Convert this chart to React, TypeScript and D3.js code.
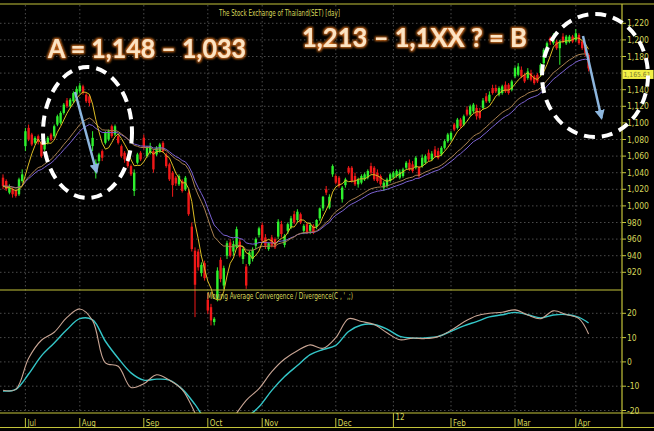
import React from 'react';
import * as d3 from 'd3';

// daily candles, SET index (Jul 2011 - Apr 2012)
const opens = [
  1034, 1030, 1016, 1020, 1018, 1014, 1030, 1072, 1094, 1086, 1076, 1084, 1076, 1068, 1076, 1086, 1084, 1098, 1100, 1112,
  1127, 1120, 1126, 1134, 1138, 1144, 1134, 1132, 1072, 1040, 1054, 1066, 1076, 1080, 1096, 1086, 1084, 1072, 1064, 1060,
  1048, 1018, 1052, 1064, 1082, 1060, 1064, 1066, 1062, 1066, 1076, 1062, 1050, 1040, 1034, 1026, 1030, 1020, 1016, 975,
  946, 945, 919, 931, 887, 878, 860, 888, 935, 904, 940, 956, 945, 950, 957, 936, 927, 930, 936, 952,
  965, 977, 962, 948, 962, 960, 963, 978, 953, 970, 974, 990, 983, 990, 970, 978, 970, 976, 975, 985,
  997, 1020, 998, 1038, 1036, 1034, 1008, 1025, 1046, 1046, 1036, 1026, 1028, 1032, 1034, 1048, 1046, 1040, 1036, 1022,
  1024, 1030, 1034, 1036, 1034, 1036, 1046, 1052, 1050, 1046, 1046, 1048, 1052, 1064, 1056, 1068, 1066, 1062, 1070, 1078,
  1080, 1098, 1094, 1104, 1098, 1116, 1110, 1114, 1118, 1114, 1118, 1132, 1126, 1142, 1142, 1134, 1136, 1146, 1146, 1140,
  1156, 1158, 1164, 1158, 1154, 1160, 1156, 1158, 1160, 1172, 1186, 1202, 1196, 1198, 1190, 1204, 1196, 1198, 1204, 1200,
  1206, 1198, 1192, 1182,
];
const highs = [
  1038, 1032, 1026, 1022, 1020, 1034, 1044, 1094, 1098, 1088, 1084, 1086, 1078, 1080, 1084, 1088, 1098, 1110, 1114, 1124,
  1130, 1130, 1138, 1144, 1148, 1146, 1136, 1134, 1090, 1056, 1064, 1068, 1090, 1092, 1098, 1098, 1086, 1074, 1066, 1062,
  1050, 1044, 1064, 1066, 1086, 1072, 1076, 1068, 1072, 1076, 1078, 1064, 1052, 1042, 1036, 1038, 1032, 1036, 1020, 980,
  950, 948, 932, 934, 895, 882, 866, 926, 938, 928, 958, 960, 958, 975, 960, 950, 930, 946, 950, 962,
  975, 980, 966, 956, 965, 962, 984, 982, 966, 980, 988, 994, 996, 992, 978, 980, 980, 978, 984, 998,
  1012, 1024, 1014, 1050, 1038, 1036, 1024, 1034, 1048, 1048, 1040, 1034, 1038, 1040, 1044, 1052, 1048, 1044, 1038, 1030,
  1034, 1040, 1042, 1044, 1044, 1046, 1054, 1056, 1054, 1060, 1048, 1062, 1062, 1068, 1066, 1072, 1070, 1072, 1080, 1088,
  1090, 1100, 1106, 1106, 1110, 1120, 1122, 1124, 1122, 1118, 1130, 1136, 1138, 1146, 1146, 1144, 1146, 1150, 1148, 1152,
  1168, 1172, 1168, 1160, 1166, 1164, 1158, 1160, 1172, 1190, 1198, 1204, 1208, 1200, 1200, 1208, 1206, 1206, 1206, 1213,
  1208, 1200, 1196, 1184,
];
const lows = [
  1020, 1018, 1014, 1010, 1010, 1012, 1028, 1066, 1078, 1072, 1074, 1074, 1058, 1066, 1074, 1078, 1082, 1096, 1098, 1110,
  1118, 1118, 1124, 1132, 1136, 1134, 1124, 1120, 1066, 1033, 1050, 1054, 1074, 1078, 1082, 1084, 1074, 1058, 1052, 1046,
  1036, 1012, 1050, 1054, 1068, 1058, 1062, 1040, 1060, 1064, 1064, 1046, 1030, 1011, 1024, 1024, 1016, 1018, 988, 945,
  866, 922, 915, 910, 870, 856, 856, 885, 908, 900, 936, 938, 940, 948, 938, 930, 900, 928, 933, 948,
  962, 956, 948, 946, 950, 948, 960, 962, 950, 966, 972, 978, 980, 978, 966, 966, 966, 966, 972, 982,
  994, 1013, 996, 1035, 1026, 1022, 1004, 1022, 1038, 1028, 1024, 1022, 1026, 1030, 1032, 1038, 1030, 1028, 1024, 1018,
  1022, 1028, 1032, 1034, 1032, 1034, 1044, 1042, 1040, 1044, 1034, 1046, 1050, 1054, 1054, 1058, 1056, 1060, 1068, 1076,
  1078, 1090, 1092, 1094, 1096, 1108, 1108, 1112, 1104, 1104, 1116, 1124, 1124, 1134, 1136, 1132, 1134, 1136, 1134, 1138,
  1154, 1156, 1154, 1148, 1152, 1150, 1146, 1148, 1156, 1170, 1184, 1194, 1194, 1188, 1170, 1196, 1194, 1196, 1196, 1198,
  1194, 1188, 1180, 1162,
];
const closes = [
  1024, 1020, 1022, 1014, 1012, 1032, 1038, 1090, 1080, 1074, 1082, 1077, 1060, 1078, 1082, 1080, 1096, 1108, 1112, 1122,
  1120, 1128, 1136, 1141, 1145, 1136, 1126, 1124, 1082, 1052, 1062, 1058, 1088, 1090, 1084, 1096, 1076, 1060, 1056, 1048,
  1038, 1040, 1062, 1056, 1070, 1070, 1072, 1044, 1070, 1074, 1066, 1048, 1032, 1025, 1027, 1036, 1018, 1034, 990, 948,
  905, 926, 929, 913, 874, 862, 864, 922, 912, 925, 955, 940, 954, 972, 940, 948, 904, 944, 947, 960,
  973, 958, 952, 955, 952, 950, 981, 966, 964, 978, 985, 980, 993, 980, 976, 968, 977, 968, 983, 997,
  1011, 1016, 1011, 1048, 1028, 1024, 1022, 1032, 1040, 1030, 1026, 1032, 1036, 1038, 1042, 1040, 1032, 1030, 1026, 1028,
  1032, 1038, 1040, 1042, 1041, 1044, 1052, 1044, 1042, 1058, 1036, 1058, 1060, 1056, 1063, 1060, 1058, 1070, 1078, 1086,
  1088, 1092, 1104, 1096, 1108, 1110, 1120, 1122, 1108, 1106, 1127, 1126, 1134, 1136, 1138, 1142, 1144, 1138, 1136, 1150,
  1166, 1168, 1156, 1150, 1162, 1152, 1148, 1150, 1170, 1188, 1196, 1198, 1205, 1190, 1198, 1198, 1204, 1204, 1198, 1208,
  1196, 1190, 1184, 1165.61,
];

// MACD panel, sampled every 4 bars
const macdBars = [
  0, 4, 8, 12, 16, 20, 24, 28, 32, 36, 40, 44, 48, 52, 56, 60, 64, 68, 72, 76, 80, 84, 88, 92,
  96, 100, 104, 108, 112, 116, 120, 124, 128, 132, 136, 140, 144, 148, 152, 156, 160, 164, 168, 172, 176, 180, 183,
];
const macdValues = [
  -11.7, -11.3, 1.5, 8.9, 12.2, 18.3, 21.8, 17, -0.4, -1.8, -10.5, -9, -5.3, -7.5, -11.4, -21, -32, -30, -23, -15.8,
  -11, -4, 1.2, 4.6, 7, 5.6, 10, 17.8, 16.6, 15.4, 12, 9.1, 9.8, 9.6, 10.4, 13, 16.4, 19, 20, 20.4, 21.4, 19.3, 17.8,
  21, 19.5, 17.8, 11.5,
];
const signalValues = [
  -12, -11.3, -5, 2.5, 7.8, 13.3, 17.8, 17.3, 8.5, 1.5, -4.5, -7.5, -7.1, -7.5, -11.2, -17.5, -25, -28, -27, -23,
  -18.5, -11.7, -6, -1.5, 3, 5.1, 6.8, 12.5, 15.2, 15.4, 13.5, 10.5, 9.8, 9.9, 10.5, 12.6, 14.8, 16.6, 18.5, 19.4, 20.4,
  19.4, 18.1, 19.3, 19.5, 18.3, 16,
];

const priceGrid = [1220, 1200, 1180, 1160, 1140, 1120, 1100, 1080, 1060, 1040, 1020, 1000, 980, 960, 940, 920];
const priceLabels = [1220, 1200, 1180, 1140, 1120, 1100, 1080, 1060, 1040, 1020, 1000, 980, 960, 940, 920];
const macdTicks = [20, 10, 0, -10, -20];
const monthLabels = ['Jul', 'Aug', 'Sep', 'Oct', 'Nov', 'Dec', '12', 'Feb', 'Mar', 'Apr'];
const monthBars = [7, 24, 44, 64, 81, 104, 122, 140, 160, 179];
const lastPrice = 1165.61;

const W = 654;
const H = 431;
const NARROW = '"Liberation Sans Narrow", "Arial Narrow", "DejaVu Sans Condensed", sans-serif';
const AXIS = '#c4c43a';
const LABEL = '#d6d65a';
const GRID = '#4a4a4a';
const UP = '#2ef02e';
const DOWN = '#f01818';

function sma(vals: number[], n: number) {
  return vals.map((_, i) => d3.mean(vals.slice(Math.max(0, i - n + 1), i + 1)) as number);
}
function ema(vals: number[], n: number) {
  const k = 2 / (n + 1);
  const out: number[] = [];
  vals.forEach((v, i) => out.push(i === 0 ? v : v * k + out[i - 1] * (1 - k)));
  return out;
}

export default function App() {
  const n = closes.length;
  const x = d3.scaleLinear().domain([0, n - 1]).range([3, 588.6]);
  const yP = d3.scaleLinear().domain([920, 1220]).range([272.3, 23.3]);
  const yM = d3.scaleLinear().domain([-20, 20]).range([410.5, 313.3]);
  const fmt = d3.format(',');

  const ma5 = sma(closes, 5);
  const ma20 = ema(closes, 20);
  const ma25 = ema(closes, 25);
  const maLine = d3.line<number>().x((_, i) => x(i)).y(d => yP(d));
  const macdLine = d3.line<number>()
    .x((_, i) => x(macdBars[i]))
    .y(d => yM(d))
    .curve(d3.curveCatmullRom.alpha(0.5));

  return (
    <div style={{ position: 'fixed', left: 0, top: 0, width: W, height: H, background: '#000' }}>
      <svg width={W} height={H} style={{ display: 'block', background: '#000' }}>
        <defs>
          <clipPath id="macdClip">
            <rect x={0} y={290} width={622} height={123} />
          </clipPath>
          <marker id="arrowHead" viewBox="0 0 10 10" refX={8} refY={5} markerWidth={4} markerHeight={4} orient="auto">
            <path d="M0,0 L10,5 L0,10 z" fill="#8db6de" />
          </marker>
          <filter id="glow" x="-10%" y="-40%" width="120%" height="180%">
            <feMorphology in="SourceAlpha" operator="dilate" radius={1} result="dil" />
            <feGaussianBlur in="dil" stdDeviation={1.1} result="blur" />
            <feFlood floodColor="#d8701a" />
            <feComposite in2="blur" operator="in" result="g" />
            <feMerge>
              <feMergeNode in="g" />
              <feMergeNode in="SourceGraphic" />
            </feMerge>
          </filter>
        </defs>

        {/* grid */}
        <g stroke={GRID} strokeDasharray="1.5,2.5" strokeWidth={1}>
          {priceGrid.map(v => (
            <line key={'pg' + v} x1={0} x2={622} y1={yP(v)} y2={yP(v)} />
          ))}
          {macdTicks.map(v => (
            <line key={'mg' + v} x1={0} x2={622} y1={yM(v)} y2={yM(v)} />
          ))}
          {monthBars.map(b => (
            <line key={'vg' + b} x1={x(b)} x2={x(b)} y1={5} y2={413} />
          ))}
        </g>

        {/* candles */}
        <g>
          {closes.map((c, i) => {
            const o = opens[i];
            const col = c >= o ? UP : DOWN;
            const top = yP(Math.max(o, c));
            const h = Math.max(1, Math.abs(yP(o) - yP(c)));
            return (
              <g key={i}>
                <line x1={x(i)} x2={x(i)} y1={yP(highs[i])} y2={yP(lows[i])} stroke={col} strokeWidth={1} />
                <rect x={x(i) - 1.2} y={top} width={2.4} height={h} fill={col} />
              </g>
            );
          })}
        </g>

        {/* moving averages */}
        <path d={maLine(ma25) || ''} fill="none" stroke="#7c62d4" strokeWidth={1} />
        <path d={maLine(ma20) || ''} fill="none" stroke="#a98050" strokeWidth={1} />
        <path d={maLine(ma5) || ''} fill="none" stroke="#dcbc24" strokeWidth={1} />

        {/* MACD */}
        <g clipPath="url(#macdClip)">
          <path d={macdLine(signalValues) || ''} fill="none" stroke="#34c6c8" strokeWidth={1.4} />
          <path d={macdLine(macdValues) || ''} fill="none" stroke="#c9a594" strokeWidth={1.1} />
        </g>

        {/* frame */}
        <g stroke={AXIS} strokeWidth={1.2}>
          <line x1={0} x2={W} y1={4} y2={4} />
          <line x1={622} x2={622} y1={4} y2={427} />
          <line x1={0} x2={622} y1={290} y2={290} />
          <line x1={0} x2={W} y1={413} y2={413} />
          <line x1={0} x2={W} y1={427.5} y2={427.5} />
        </g>

        {/* price axis */}
        <g fontFamily={NARROW} fontSize={8.5} fill={LABEL}>
          {priceLabels.map(v => (
            <g key={'pl' + v}>
              <line x1={622} x2={626} y1={yP(v)} y2={yP(v)} stroke={AXIS} />
              <text x={627} y={yP(v) + 3}>{fmt(v)}</text>
            </g>
          ))}
          {macdTicks.map(v => (
            <g key={'ml' + v}>
              <line x1={622} x2={626} y1={yM(v)} y2={yM(v)} stroke={AXIS} />
              <text x={627} y={yM(v) + 3}>{v}</text>
            </g>
          ))}
        </g>
        <rect x={622.5} y={yP(lastPrice) + 1.5} width={31} height={9} fill="#f2f046" />
        <text
          x={623.5}
          y={yP(lastPrice) + 8.6}
          fontFamily={NARROW}
          fontSize={7}
          fill="#7a7a30"
          textLength={27}
          lengthAdjust="spacingAndGlyphs"
        >
          {d3.format(',.2f')(lastPrice)}
        </text>

        {/* time axis */}
        <g fontFamily={NARROW} fontSize={8} fill={LABEL}>
          {monthLabels.map((m, i) => {
            const xx = x(monthBars[i]);
            const yearMark = m === '12';
            return (
              <g key={m}>
                <line x1={xx} x2={xx} y1={yearMark ? 413 : 418} y2={427} stroke={AXIS} />
                <text x={xx + 2} y={yearMark ? 420 : 425.5}>{m}</text>
              </g>
            );
          })}
        </g>

        {/* titles */}
        <text x={219} y={16} fontFamily={NARROW} fontSize={8} fill={LABEL} textLength={121} lengthAdjust="spacingAndGlyphs">
          The Stock Exchange of Thailand(SET) [day]
        </text>
        <text x={207} y={298.5} fontFamily={NARROW} fontSize={8.5} fill={LABEL} textLength={146} lengthAdjust="spacingAndGlyphs">
          Moving Average Convergence / Divergence(C , ' ,;)
        </text>

        {/* annotations */}
        <g fill="none" stroke="#ffffff" strokeWidth={4} strokeDasharray="11,7">
          <ellipse cx={87.5} cy={132.5} rx={44.5} ry={65.5} />
          <ellipse cx={595} cy={75.5} rx={53} ry={61.5} />
        </g>
        <g stroke="#8db6de" strokeWidth={2.5} markerEnd="url(#arrowHead)">
          <line x1={75} y1={92} x2={96.5} y2={172} />
          <line x1={583} y1={36} x2={601.5} y2={118} />
        </g>
        <g fontFamily="Lato, 'Open Sans', sans-serif" fontWeight={700} fontSize={26} fill="#fce4c2" filter="url(#glow)">
          <text x={48} y={58} textLength={198} lengthAdjust="spacingAndGlyphs">A = 1,148 – 1,033</text>
          <text x={302} y={47} textLength={225} lengthAdjust="spacingAndGlyphs">1,213 – 1,1XX ? = B</text>
        </g>
      </svg>
    </div>
  );
}
